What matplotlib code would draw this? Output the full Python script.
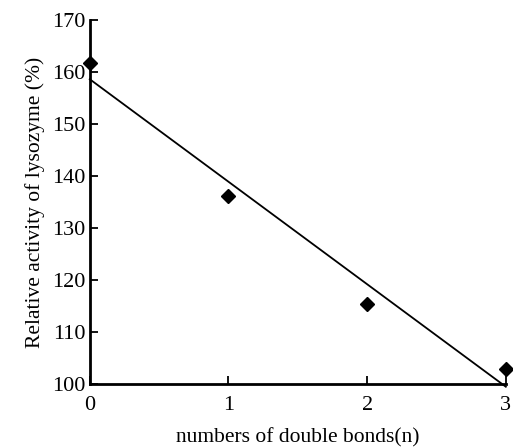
import numpy as np
import matplotlib
matplotlib.use("Agg")
import matplotlib.pyplot as plt

plt.rcParams['font.family'] = ['Liberation Serif', 'DejaVu Serif']

# data
n_bonds = [0, 1, 2, 3]
activity = [161.7, 136.2, 115.4, 102.9]
x_ticks = [0, 1, 2, 3]
y_ticks = [100, 110, 120, 130, 140, 150, 160, 170]

fig = plt.figure(figsize=(5.13, 4.47), dpi=100)
ax = fig.add_axes([0.175, 0.141, 0.811, 0.814])

# linear fit line
slope, intercept = np.polyfit(n_bonds, activity, 1)
xs = np.array([n_bonds[0], n_bonds[-1]])
ax.plot(xs, slope * xs + intercept, color='black', lw=1.3, clip_on=False)

ax.plot(n_bonds, activity, 'D', color='black', markersize=7, clip_on=False, zorder=3)

ax.set_xlim(0, 3)
ax.set_ylim(100, 170)
ax.set_xticks(x_ticks)
ax.set_yticks(y_ticks)
ax.tick_params(direction='in', length=6, width=1.3, labelsize=16, pad=3)
ax.tick_params(axis='x', pad=9)

for s in ['top', 'right']:
    ax.spines[s].set_visible(False)
for s in ['left', 'bottom']:
    ax.spines[s].set_linewidth(2)

ax.set_xlabel('numbers of double bonds(n)', fontsize=15.5, labelpad=9)
ax.set_ylabel('Relative activity of lysozyme (%)', fontsize=15.5, labelpad=5)

fig.savefig('out.png', dpi=100)
